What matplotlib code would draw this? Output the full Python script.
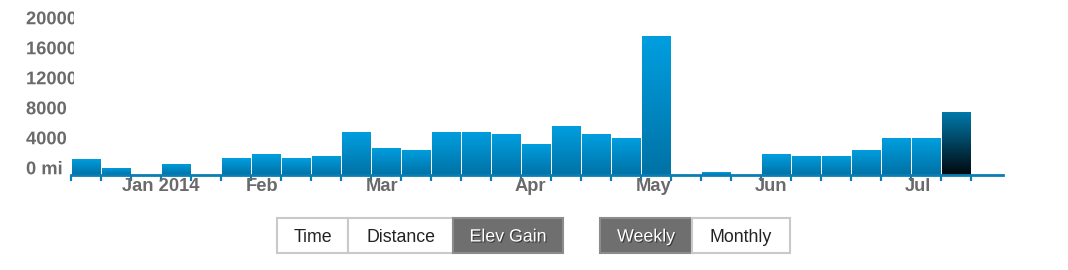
import numpy as np
import matplotlib
matplotlib.use("Agg")
import matplotlib.pyplot as plt
import matplotlib.patheffects as pe
from matplotlib.colors import LinearSegmentedColormap
from matplotlib.patches import Rectangle
from matplotlib.transforms import Bbox, TransformedBbox

# weekly elevation gain, one bar per week (mid Dec 2013 -> end of Jul 2014)
elev_gain = [2200, 950, 0, 1500, 0, 2250, 2800, 2250, 2550, 5750,
             3650, 3350, 5750, 5750, 5450, 4150, 6550, 5450, 4950, 18600,
             0, 400, 0, 2800, 2550, 2550, 3350, 4950, 4950, 8400, 0]
current_week = 29

month_labels = ["Jan 2014", "Feb", "Mar", "Apr", "May", "Jun", "Jul"]
month_pos = [3.0, 6.37, 10.37, 15.3, 19.43, 23.33, 28.23]

y_ticks = [0, 4000, 8000, 12000, 16000, 20000]
y_ticklabels = ["0 mi", "4000", "8000", "12000", "16000", "20000"]

metric_buttons = ["Time", "Distance", "Elev Gain"]
period_buttons = ["Weekly", "Monthly"]
active_buttons = ["Elev Gain", "Weekly"]

# --- style ---
W, H = 1068, 270
BLUE_LINE = "#0a7db4"
LABEL_GRAY = "#6a6a6a"
plt.rcParams["font.family"] = ["Liberation Sans", "DejaVu Sans"]

bar_cmap = LinearSegmentedColormap.from_list("bar", ["#0072a6", "#009fe0"])
cur_cmap = LinearSegmentedColormap.from_list("cur", ["#00080d", "#0079aa"])
grad = np.linspace(0, 1, 128).reshape(-1, 1)

fig = plt.figure(figsize=(W / 100, H / 100), dpi=100)
ax = fig.add_axes([71 / W, (H - 175) / H, (1003 - 71) / W, 150 / H])

weeks = np.arange(len(elev_gain))
bars = ax.bar(weeks + 0.5, elev_gain, width=0.935, color="none", linewidth=0, zorder=2)
for i, rect in enumerate(bars):
    h = elev_gain[i]
    if h <= 0:
        continue
    cmap = cur_cmap if i == current_week else bar_cmap
    x0 = rect.get_x()
    im = ax.imshow(grad, extent=(x0, x0 + rect.get_width(), 0, h), origin="lower",
                   aspect="auto", cmap=cmap, zorder=2)
    im.set_clip_path(rect)

ax.set_xlim(0, 31.07)
ax.set_ylim(0, 20000)
for s in ["top", "left", "right"]:
    ax.spines[s].set_visible(False)
ax.spines["bottom"].set_color(BLUE_LINE)
ax.spines["bottom"].set_linewidth(2.0)
ax.spines["bottom"].set_zorder(3)
ax.set_xticks(np.arange(0, 31))
ax.set_yticks([])
ax.tick_params(axis="x", direction="out", length=4.5, width=1.6, color=BLUE_LINE,
               labelbottom=False)

# month labels under the axis
for lab, pos in zip(month_labels, month_pos):
    ax.text(pos, -0.075, lab, transform=ax.get_xaxis_transform(), ha="center", va="center",
            fontsize=13.2, fontweight="bold", color=LABEL_GRAY, clip_on=False)

# y labels, clipped on the right like the original (path effect -> drawn as path, so clip works)
clip = TransformedBbox(Bbox([[-0.2, -0.3], [2.5 / 932, 1.3]]), ax.transAxes)
for v, s in zip(y_ticks, y_ticklabels):
    t = ax.text(-45 / 932, v + 700, s, transform=ax.get_yaxis_transform(), ha="left",
                va="center", fontsize=13.2, fontweight="bold", color=LABEL_GRAY,
                path_effects=[pe.Normal()])
    t.set_clip_on(True)
    t.set_clip_box(clip)
    t.set_clip_path(None)


# --- toggle buttons ---
def draw_buttons(labels, edges):
    for lab, (x0, x1) in zip(labels, zip(edges[:-1], edges[1:])):
        on = lab in active_buttons
        fc = "#6f6f6f" if on else "white"
        ec = "#8c8c8c" if on else "#c9c9c9"
        fig.add_artist(Rectangle((x0 / W, 17 / H), (x1 - x0) / W, 35 / H,
                                 transform=fig.transFigure, facecolor=fc, edgecolor=ec,
                                 linewidth=1.5))
        kw = dict(ha="center", va="center", fontsize=12.8,
                  color="white" if on else "#222222")
        if on:
            kw["path_effects"] = [pe.withSimplePatchShadow(offset=(0.8, -0.8),
                                                           shadow_rgbFace="#222222", alpha=0.7)]
        fig.text((x0 + x1) / 2 / W, 33 / H, lab, **kw)


draw_buttons(metric_buttons, [277, 348, 453, 563])
draw_buttons(period_buttons, [600, 692, 790])

fig.savefig("out.png", dpi=100)
